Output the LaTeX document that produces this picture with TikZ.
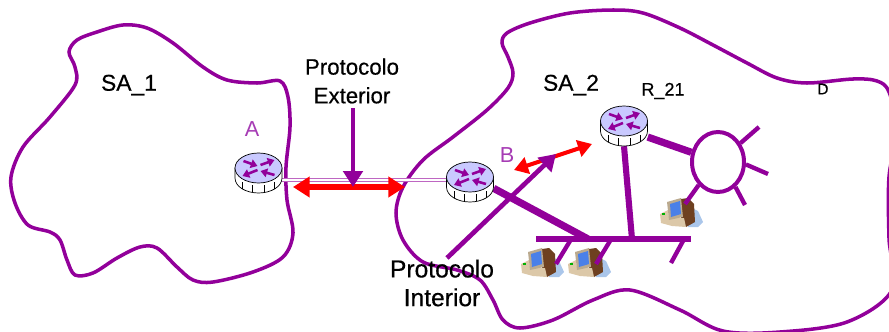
\documentclass[tikz,border=0pt]{standalone}
\usepackage{fontspec}
\setmainfont{Liberation Sans}
\newfontfamily\labelfont[FakeBold=0.4]{Liberation Sans}
\usetikzlibrary{arrows.meta,shapes.geometric}
\definecolor{sapurple}{HTML}{92009A}
\definecolor{lblpurple}{HTML}{A63CB4}
\definecolor{routerblue}{HTML}{C9C9FF}
\definecolor{pcscreen}{HTML}{4A80E8}
\definecolor{pcbeige}{HTML}{DCC8A8}
\definecolor{pcbrown}{HTML}{6E4020}
\definecolor{pcshadow}{HTML}{AAC6EA}

\begin{document}
\begin{tikzpicture}[x=0.03cm,y=-0.03cm,
    area/.style={draw=sapurple,line width=3pt},
    router node/.style={rectangle,minimum width=1.41cm,minimum height=1.2cm,inner sep=0pt},
    ring node/.style={ellipse,draw=sapurple,line width=3.4pt,minimum width=1.56cm,minimum height=1.8cm,inner sep=0pt},
    link/.style={draw=sapurple,line width=5.2pt},
    bold link/.style={draw=sapurple,line width=6.2pt},
    stub/.style={draw=sapurple,line width=3.7pt},
    ext link/.style={draw=sapurple!60,line width=.9pt,double=white,double distance=1.7pt},
    red arrow/.style={draw=red,line width=4.4pt,<->,>={Triangle[length=.5cm,width=.6cm]}},
    small red arrow/.style={draw=red,line width=3.4pt,<->,>={Triangle[length=.42cm,width=.5cm]}},
    purple arrow/.style={draw=sapurple,line width=4pt,-{Triangle[length=.48cm,width=.58cm]}},
    big label/.style={font=\labelfont\fontsize{19}{24.5}\selectfont,align=center,inner sep=0pt},
    int label/.style={font=\labelfont\fontsize{21}{24.5}\selectfont,align=center,inner sep=0pt},
    sa label/.style={font=\labelfont\fontsize{19.5}{22}\selectfont,inner sep=0pt},
    letter label/.style={font=\fontsize{18.5}{22}\selectfont,text=lblpurple,inner sep=0pt},
    router arrow/.style={sapurple,line width=2.2pt,-{Triangle[length=.2cm,width=.26cm]}},
    router/.pic={
        \path[draw=black,fill=white,line width=.6pt] (-23.5,-5) -- (-23.5,5) .. controls (-23.5,14) and (-12,20) .. (0,20) .. controls (12,20) and (23.5,14) .. (23.5,5) -- (23.5,-5) -- cycle;
        \foreach \tx/\ty in {-16/12,-6/15,6/15,16/12} {
            \draw[line width=.6pt] (\tx,\ty-3) -- (\tx,\ty+4);
        }
        \path[draw=black,fill=routerblue,line width=.6pt] (0,-5) ellipse [x radius=23.5,y radius=15];
        \draw[router arrow] (-15,-12) -- (-1,-7);
        \draw[router arrow] (2,-8) -- (16,-13);
        \draw[router arrow] (-1,-3) -- (-16,3);
        \draw[router arrow] (16,2) -- (2,-2);
    },
    pc/.pic={
        \fill[pcshadow] (28,8) -- (38,13) -- (43,24) -- (38,29) -- (28,29) -- cycle;
        \fill[pcbrown] (21,1) -- (28,0) -- (34,6) -- (35,24) -- (26,29) -- (21,25) -- cycle;
        \fill[pcbeige] (0,16) -- (8,12) -- (9,20) -- (24,20) -- (26,29) -- (12,28) -- (1,25) -- cycle;
        \fill[pcbeige!85!black] (7,4) -- (21,0) -- (23,19) -- (9,22) -- cycle;
        \fill[pcscreen] (10,6) -- (20,3) -- (21,16) -- (11,19) -- cycle;
        \fill[green!70!black] (2,15) rectangle (5,17);
    }]

    \clip (0,0) rectangle (889,331);

    % areas
    \path[area] plot[smooth cycle,tension=.55] coordinates {(69,52) (77,40) (97,32) (123,25) (147,28) (173,43) (203,67) (227,80) (257,83) (280,81) (288,97) (290,127) (286,167) (287,200) (293,233) (283,257) (253,272) (213,282) (193,280) (177,267) (157,248) (140,247) (117,258) (93,273) (75,275) (67,260) (60,240) (50,232) (28,225) (15,203) (11,177) (23,147) (50,117) (75,85) (75,67)};
    \path[area] plot[smooth cycle,tension=.55] coordinates {(502,43) (507,33) (530,23) (570,13) (613,10) (643,13) (680,28) (713,45) (747,63) (777,78) (807,83) (853,79) (877,81) (889,92) (897,130) (889,177) (889,238) (892,290) (847,322) (780,332) (723,331) (680,310) (630,290) (593,300) (553,320) (520,328) (503,320) (493,300) (480,280) (457,270) (423,262) (403,240) (396,213) (403,187) (423,160) (453,137) (487,110) (508,88) (513,73) (508,57)};

    % computers
    \pic at (521,248) {pc};
    \pic at (568,248) {pc};
    \pic at (660,198) {pc};

    \foreach \name/\px/\py in {A/258.5/173,B/470/182,R21/624/126} {
        \node[router node] (\name) at (\px,\py) {};
    }
    \node[ring node] (ring) at (718,162) {};

    \coordinate (extA) at (282,180);
    \coordinate (extB) at (446,180);
    \coordinate (busL) at (536,239);
    \coordinate (busR) at (691,239);
    \coordinate (tapB) at (588,239);
    \coordinate (tapR) at (632,239);

    % links
    \draw[ext link] (extA) -- (extB);
    \draw[bold link] (B.-15) -- (tapB);
    \draw[link] (busL) -- (busR);
    \draw[link] (R21.south) -- (tapR);
    \draw[bold link] (R21.-25) -- (ring.160);

    \coordinate (stub1a) at (570,241);
    \coordinate (stub1b) at (556,264);
    \coordinate (stub2a) at (610,241);
    \coordinate (stub2b) at (596,264);
    \coordinate (stub3a) at (683,241);
    \coordinate (stub3b) at (671,263);
    \coordinate (spoke1) at (759,127);
    \coordinate (spoke2) at (768,174);
    \coordinate (spoke3) at (745,205);
    \coordinate (spoke4) at (685,204);
    \path[stub]
        (stub1a) edge (stub1b)
        (stub2a) edge (stub2b)
        (stub3a) edge (stub3b)
        (ring.40) edge (spoke1)
        (ring.-5) edge (spoke2)
        (ring.-55) edge (spoke3)
        (ring.-130) edge (spoke4)
        ;

    % routers
    \foreach \name in {A,B,R21} {
        \pic at (\name) {router};
    }

    % arrows
    \coordinate (redL) at (293,187);
    \coordinate (redR) at (405,187);
    \coordinate (redS) at (514,170);
    \coordinate (redT) at (592,144);
    \coordinate (extTop) at (353,108);
    \coordinate (extTip) at (353,187);
    \coordinate (intTop) at (447,258);
    \coordinate (intTip) at (556,154);
    \draw[red arrow] (redL) -- (redR);
    \draw[small red arrow] (redS) -- (redT);
    \draw[purple arrow] (extTop) -- (extTip);
    \draw[purple arrow] (intTop) -- (intTip);

    % labels
    \node[sa label] (sa1) at (129,85) {SA\_1};
    \node[sa label] (sa2) at (571,85) {SA\_2};
    \node[letter label] (lblA) at (252,129) {A};
    \node[letter label] (lblB) at (507,155) {B};
    \node[font=\labelfont\fontsize{15.4}{18}\selectfont,inner sep=0pt] (lblR) at (663,91) {R\_21};
    \node[font=\labelfont\fontsize{13}{16}\selectfont,inner sep=0pt] (lblD) at (823,89) {D};
    \node[big label] (ext) at (352,81) {Protocolo\\Exterior};
    \node[int label] (int) at (442,283) {Protocolo\\Interior};
\end{tikzpicture}
\end{document}
